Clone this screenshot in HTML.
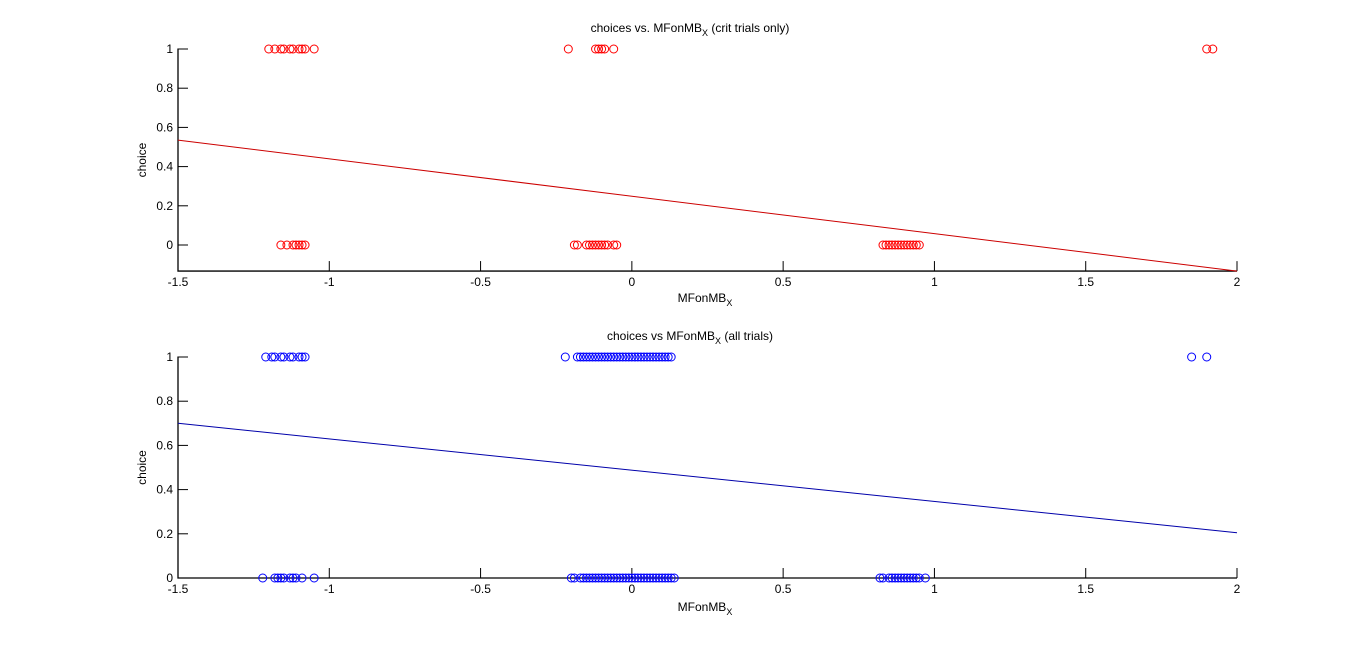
<!DOCTYPE html>
<html><head><meta charset="utf-8">
<style>
html,body{margin:0;padding:0;background:#fff;}
svg{display:block;font-family:"Liberation Sans",sans-serif;}
</style></head>
<body>
<svg id="chart" width="1366" height="651" viewBox="0 0 1366 651" xmlns="http://www.w3.org/2000/svg">
<rect width="1366" height="651" fill="#fff"/>
</svg>
<script>
const xTicks = [-1.5,-1,-0.5,0,0.5,1,1.5,2];
const xTickLabels = ['-1.5','-1','-0.5','0','0.5','1','1.5','2'];
const yTicks = [0,0.2,0.4,0.6,0.8,1];
const yTickLabels = ['0','0.2','0.4','0.6','0.8','1'];

const critX1 = [-1.2,-1.18,-1.16,-1.15,-1.13,-1.12,-1.10,-1.09,-1.08,-1.05,-0.21,-0.12,-0.11,-0.10,-0.09,-0.06,1.90,1.92];
const critX0 = [-1.16,-1.14,-1.12,-1.11,-1.10,-1.09,-1.08,-0.19,-0.18,-0.15,-0.14,-0.13,-0.12,-0.11,-0.10,-0.09,-0.08,-0.06,-0.05,0.83,0.84,0.85,0.86,0.87,0.88,0.89,0.90,0.91,0.92,0.93,0.94,0.95];
const critFit = [0.535,-0.133];

const allX1 = [-1.21,-1.19,-1.18,-1.16,-1.15,-1.13,-1.12,-1.10,-1.09,-1.08,-0.22,-0.18,-0.17,-0.16,-0.15,-0.14,-0.13,-0.12,-0.11,-0.10,-0.09,-0.08,-0.07,-0.06,-0.05,-0.04,-0.03,-0.02,-0.01,0,0.01,0.02,0.03,0.04,0.05,0.06,0.07,0.08,0.09,0.10,0.11,0.12,0.13,1.85,1.90];
const allX0 = [-1.22,-1.18,-1.17,-1.16,-1.15,-1.13,-1.12,-1.11,-1.09,-1.05,-0.20,-0.19,-0.17,-0.16,-0.15,-0.14,-0.13,-0.12,-0.11,-0.10,-0.09,-0.08,-0.07,-0.06,-0.05,-0.04,-0.03,-0.02,-0.01,0,0.01,0.02,0.03,0.04,0.05,0.06,0.07,0.08,0.09,0.10,0.11,0.12,0.13,0.14,0.82,0.83,0.85,0.86,0.87,0.88,0.89,0.90,0.91,0.92,0.93,0.94,0.95,0.97];
const allFit = [0.70,0.205];

const NS='http://www.w3.org/2000/svg';
const svg=document.getElementById('chart');
function mk(tag,attrs,parent){const e=document.createElementNS(NS,tag);for(const k in attrs)e.setAttribute(k,attrs[k]);(parent||svg).appendChild(e);return e;}

function panel(o){
  const g=mk('g',{});
  
  
  const X=v=>o.left+(v-(-1.5))/(2-(-1.5))*(o.right-o.left);
  const Y=v=>o.y0+(o.y1-o.y0)*v;
  const bottom=Y(o.ymin);
  // axes
  const ax=mk('path',{d:`M${o.left} ${o.y1-0.5}V${bottom}H${o.right}`,stroke:'#000',fill:'none','stroke-width':1.3},g);
  
  
  xTicks.forEach((t,i)=>{
    const x=X(t);
    const tk=mk('line',{x1:x,x2:x,y1:bottom,y2:bottom-10,stroke:'#000','stroke-width':1},g);
    
    
    const tx=mk('text',{x:x,y:bottom+15,'font-size':12,'text-anchor':'middle',fill:'#000'},g);
    tx.textContent=xTickLabels[i];
    
    
  });
  yTicks.forEach((t,i)=>{
    const y=Y(t);
    const tk=mk('line',{x1:o.left,x2:o.left+10,y1:y,y2:y,stroke:'#000','stroke-width':1},g);
    
    
    const tx=mk('text',{x:o.left-5,y:y+4,'font-size':12,'text-anchor':'end',fill:'#000'},g);
    tx.textContent=yTickLabels[i];
    
    
  });
  // points
  [[o.x1,1],[o.x0,0]].forEach(([arr,yv])=>{
    arr.forEach(v=>{
      const c=mk('circle',{cx:X(v),cy:Y(yv),r:4,fill:'none',stroke:o.color,'stroke-width':1},g);
      
      
    });
  });
  const ln=mk('line',{x1:X(-1.5),y1:Y(o.fit[0]),x2:X(2),y2:Y(o.fit[1]),stroke:o.lineColor,'stroke-width':1},g);
  
  
  // title
  const ti=mk('text',{x:690,y:o.titleY,'font-size':12,'text-anchor':'middle',fill:'#000'},g);
  ti.innerHTML=o.title;
  
  
  const xl=mk('text',{x:705,y:o.xlabY,'font-size':12,'text-anchor':'middle',fill:'#000'},g);
  xl.innerHTML='MFonMB<tspan font-size="9" dy="4">X</tspan>';
  
  
  const yc=(o.y1+bottom)/2;
  const yl=mk('text',{x:146,y:yc,'font-size':12,'text-anchor':'middle',fill:'#000',transform:`rotate(-90 146 ${yc})`},g);
  yl.textContent='choice';
  
  
}

panel({name:'crit-trials-panel',left:178,right:1237,y0:245,y1:49,ymin:-0.133,x1:critX1,x0:critX0,fit:critFit,color:'#ff0000',lineColor:'#cc0000',
  title:'choices vs. MFonMB<tspan font-size="9" dy="4">X</tspan><tspan dy="-4"> (crit trials only)</tspan>',titleY:32,xlabY:302});
panel({name:'all-trials-panel',left:178,right:1237,y0:578,y1:357,ymin:0,x1:allX1,x0:allX0,fit:allFit,color:'#0000ff',lineColor:'#0000aa',
  title:'choices vs MFonMB<tspan font-size="9" dy="4">X</tspan><tspan dy="-4"> (all trials)</tspan>',titleY:340,xlabY:611});
</script>
</body></html>
